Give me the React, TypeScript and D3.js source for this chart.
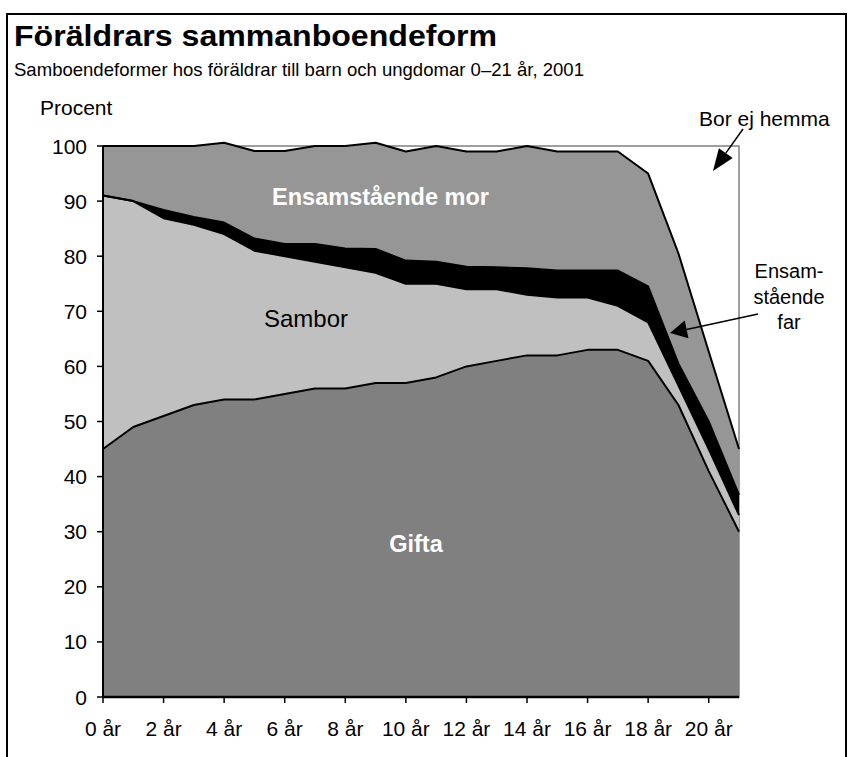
import React from "react";
import * as d3 from "d3";

// Ages (years) on the x axis
const ages = [0, 1, 2, 3, 4, 5, 6, 7, 8, 9, 10, 11, 12, 13, 14, 15, 16, 17, 18, 19, 20, 21];

// Series values (percent), stacked bottom to top
const gifta = [45, 49, 51, 53, 54, 54, 55, 56, 56, 57, 57, 58, 60, 61, 62, 62, 63, 63, 61, 53, 41, 30];
const sambor = [46, 41, 35.9, 32.7, 30, 27, 25, 23, 22, 20, 18, 17, 14, 13, 11, 10.5, 9.5, 8, 7, 3.5, 4, 3];
const ensamFar = [0, 0, 1.5, 1.4, 2.1, 2.2, 2.2, 3.2, 3.4, 4.3, 4.2, 4, 4.1, 4, 4.8, 4.9, 4.9, 6.4, 6.5, 4, 5, 3.7];
const ensamMor = [9, 10, 11.6, 12.9, 14.5, 15.9, 16.9, 17.8, 18.6, 19.3, 19.8, 21, 20.9, 21, 22.2, 21.6, 21.6, 21.6, 20.5, 20, 12.7, 8.3];

const seriesKeys = ["gifta", "sambor", "far", "mor"];
const seriesColors = ["#808080", "#c0c0c0", "#000000", "#969696"];

// Axis ticks
const yTicks = [0, 10, 20, 30, 40, 50, 60, 70, 80, 90, 100];
const xTickAges = [0, 2, 4, 6, 8, 10, 12, 14, 16, 18, 20];
const xTickLabels = ["0 år", "2 år", "4 år", "6 år", "8 år", "10 år", "12 år", "14 år", "16 år", "18 år", "20 år"];

const FONT = "'Liberation Sans', Arial, Helvetica, sans-serif";

function Arrow({ x1, y1, x2, y2, len, wid }: { x1: number; y1: number; x2: number; y2: number; len: number; wid: number }) {
  const dx = x2 - x1;
  const dy = y2 - y1;
  const d = Math.sqrt(dx * dx + dy * dy);
  const ux = dx / d;
  const uy = dy / d;
  const bx = x2 - ux * len;
  const by = y2 - uy * len;
  const px = -uy * (wid / 2);
  const py = ux * (wid / 2);
  return (
    <g>
      <line x1={x1} y1={y1} x2={bx} y2={by} stroke="#000" strokeWidth={1.5} />
      <polygon points={`${x2},${y2} ${bx + px},${by + py} ${bx - px},${by - py}`} fill="#000" />
    </g>
  );
}

export default function App() {
  const W = 853;
  const H = 757;
  const x = d3.scaleLinear().domain([0, 21]).range([103, 739]);
  const y = d3.scaleLinear().domain([0, 100]).range([697, 146]);

  const rows = ages.map((a, i) => ({
    age: a,
    gifta: gifta[i],
    sambor: sambor[i],
    far: ensamFar[i],
    mor: ensamMor[i],
  }));
  const stacked = d3.stack<any>().keys(seriesKeys)(rows);

  const area = d3
    .area<any>()
    .x((d: any) => x(d.data.age))
    .y0((d: any) => y(d[0]))
    .y1((d: any) => y(d[1]));
  const topLine = d3
    .line<any>()
    .x((d: any) => x(d.data.age))
    .y((d: any) => y(d[1]));

  return (
    <svg
      width={W}
      height={H}
      style={{ position: "absolute", left: 0, top: 0, background: "#fff" }}
      fontFamily={FONT}
    >
      <rect x={0} y={0} width={W} height={H} fill="#fff" />
      {/* outer frame */}
      <path d={`M7,${H + 5} L7,14 L846,14 L846,${H + 5}`} fill="none" stroke="#000" strokeWidth={2} />

      <text x={14} y={46} fontSize={30} fontWeight="bold" textLength={483} lengthAdjust="spacingAndGlyphs">
        Föräldrars sammanboendeform
      </text>
      <text x={14} y={76} fontSize={19} textLength={570} lengthAdjust="spacingAndGlyphs">
        Samboendeformer hos föräldrar till barn och ungdomar 0–21 år, 2001
      </text>

      <text x={40} y={115} fontSize={21}>Procent</text>

      {/* plot border */}
      <rect x={x(0)} y={y(100)} width={x(21) - x(0)} height={y(0) - y(100)} fill="none" stroke="#808080" strokeWidth={1.5} />

      {/* stacked areas */}
      {stacked.map((s, i) => (
        <path key={"a" + i} d={area(s as any) || ""} fill={seriesColors[i]} stroke="none" />
      ))}
      {stacked.map((s, i) => (
        <path key={"l" + i} d={topLine(s as any) || ""} fill="none" stroke="#000" strokeWidth={2} strokeLinejoin="round" />
      ))}

      {/* y axis */}
      <line x1={x(0)} y1={y(100)} x2={x(0)} y2={y(0)} stroke="#000" strokeWidth={2} />
      {yTicks.map((t) => (
        <g key={"y" + t}>
          <line x1={x(0) - 6} y1={y(t)} x2={x(0)} y2={y(t)} stroke="#000" strokeWidth={1.5} />
          <text x={87} y={y(t) + 7.5} fontSize={21} textAnchor="end">
            {t}
          </text>
        </g>
      ))}

      {/* x axis */}
      <line x1={x(0) - 1} y1={y(0)} x2={x(21)} y2={y(0)} stroke="#000" strokeWidth={2.5} />
      {xTickAges.map((a, i) => (
        <g key={"x" + a}>
          <line x1={x(a)} y1={y(0)} x2={x(a)} y2={y(0) + 6} stroke="#000" strokeWidth={1.5} />
          <text x={x(a)} y={736} fontSize={21} textAnchor="middle">
            {xTickLabels[i]}
          </text>
        </g>
      ))}

      {/* in-chart labels */}
      <text x={380.5} y={205} fontSize={23.5} fontWeight="bold" fill="#fff" textAnchor="middle">
        Ensamstående mor
      </text>
      <text x={306} y={327} fontSize={24} fill="#000" textAnchor="middle">
        Sambor
      </text>
      <text x={416} y={552} fontSize={23.5} fontWeight="bold" fill="#fff" textAnchor="middle">
        Gifta
      </text>

      {/* annotations */}
      <text x={699} y={126} fontSize={21}>Bor ej hemma</text>
      <Arrow x1={743} y1={129} x2={713} y2={171} len={22} wid={17} />

      <text x={789} y={278} fontSize={20} textAnchor="middle">Ensam-</text>
      <text x={789} y={304} fontSize={20} textAnchor="middle">stående</text>
      <text x={789} y={329} fontSize={20} textAnchor="middle">far</text>
      <Arrow x1={758} y1={314} x2={670} y2={333} len={17} wid={18} />
    </svg>
  );
}
